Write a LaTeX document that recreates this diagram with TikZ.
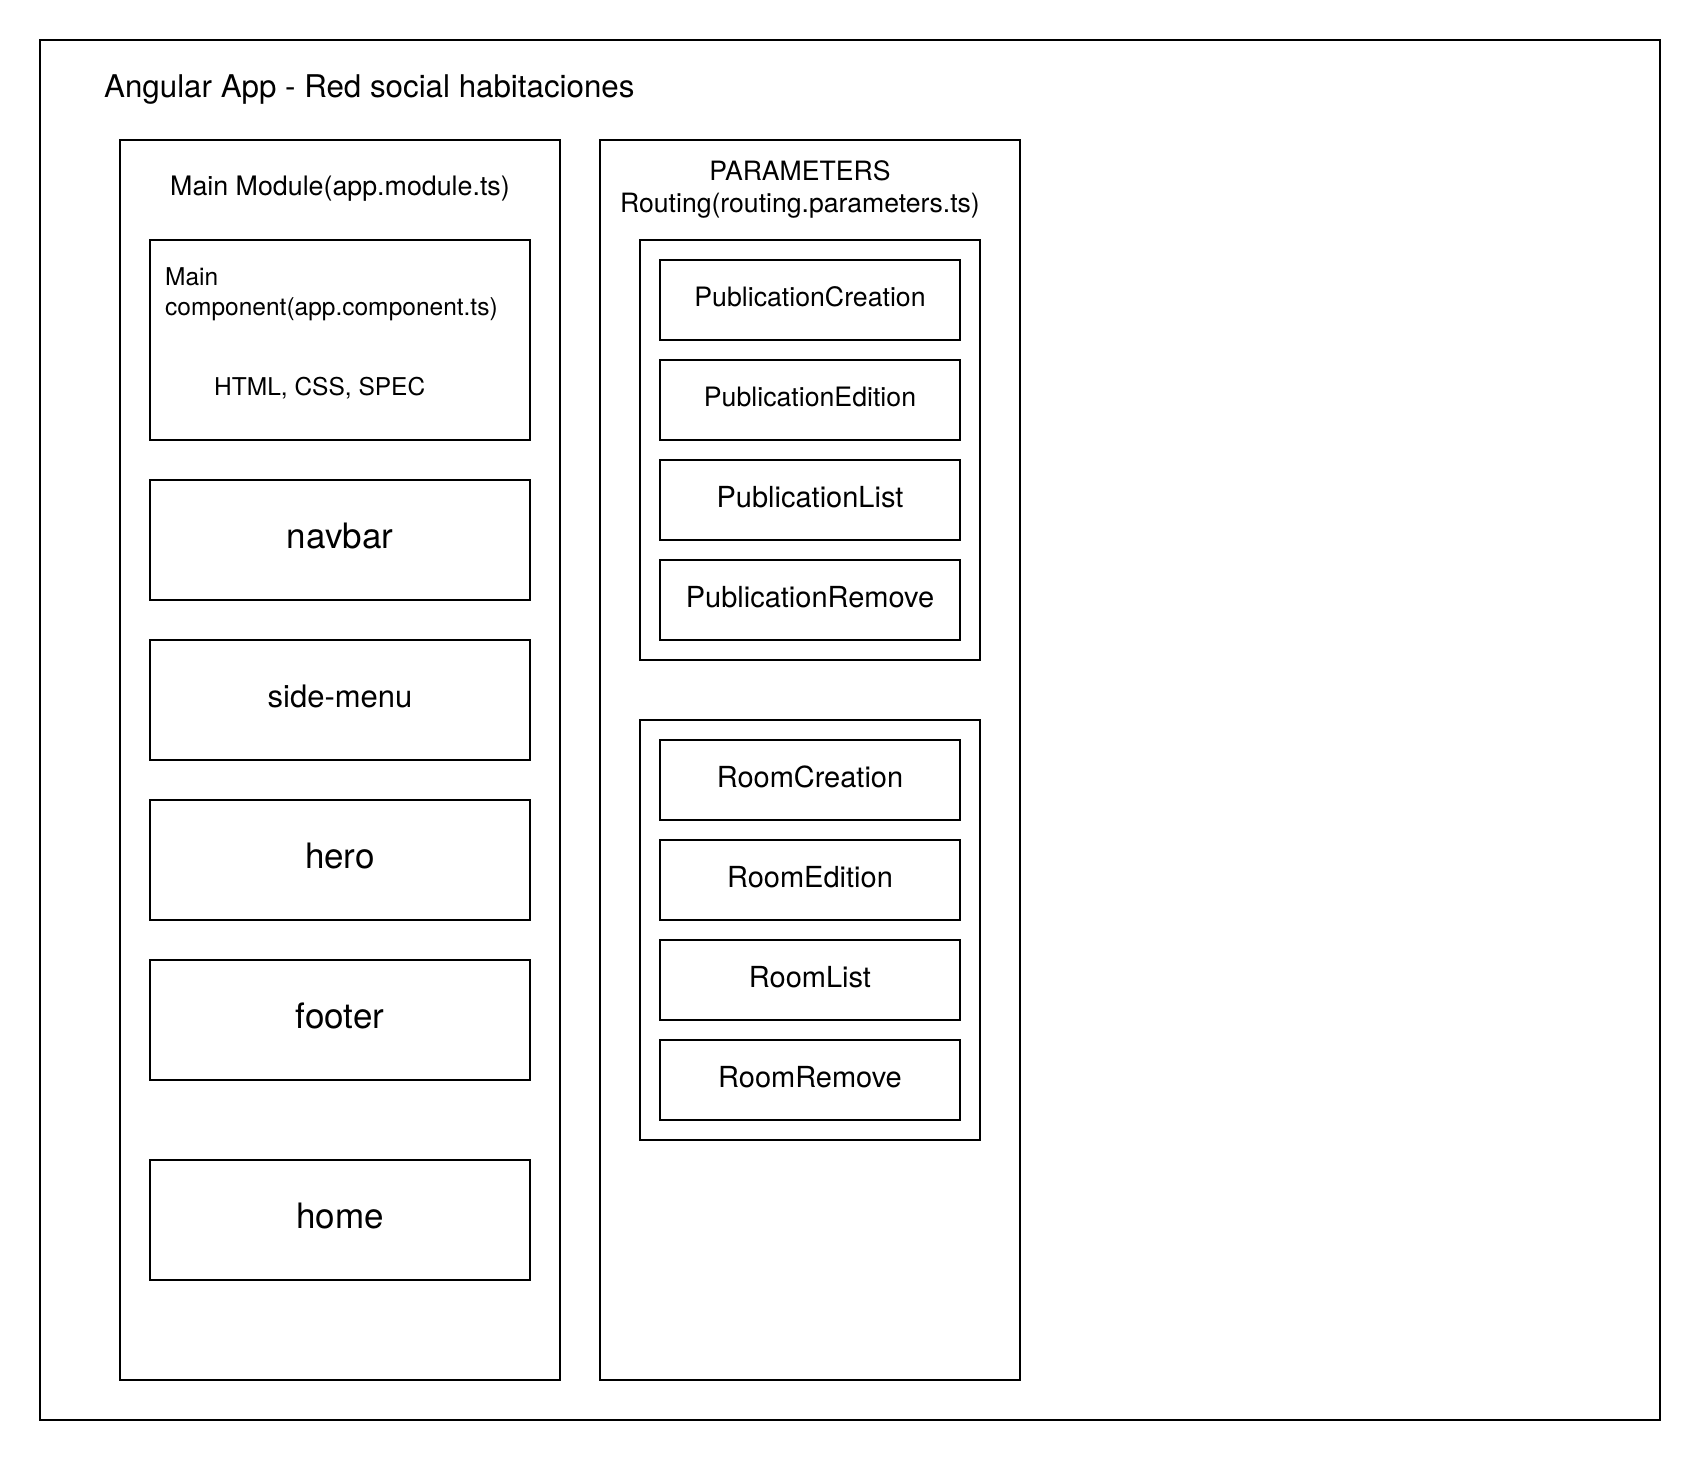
\documentclass[tikz,border=0pt]{standalone}
\usepackage{fontspec}
\setmainfont{TeX Gyre Heros}
\begin{document}
\begin{tikzpicture}[x=1pt,y=-1pt,
  frame/.style={draw=black, line width=2pt, inner sep=0pt, fill=white},
  lbl/.style={inner sep=0pt, anchor=base},
  lblw/.style={inner sep=0pt, anchor=base west},
  comp/.style={frame, minimum width=380pt, minimum height=120pt},
  route/.style={frame, minimum width=300pt, minimum height=80pt},
  grp/.style={frame, minimum width=340pt, minimum height=420pt},
  big/.style={font=\fontsize{35}{40}\selectfont, text height=26.25pt, text depth=8.75pt},
  mid/.style={font=\fontsize{31}{36}\selectfont, text height=23.25pt, text depth=7.75pt},
  rtA/.style={font=\fontsize{26.7}{31}\selectfont, text height=20pt, text depth=6.7pt},
  rtB/.style={font=\fontsize{29}{33}\selectfont, text height=21.75pt, text depth=7.25pt}
]
\useasboundingbox (0,0) rectangle (1700,1460);
\fill[white] (0,0) rectangle (1700,1460);

% outer frame
\node[frame, minimum width=1620pt, minimum height=1380pt] (outer) at (850,730) {};
\node[lblw, font=\fontsize{31.3}{36}\selectfont] (title) at (104,97) {Angular App - Red social habitaciones};

% left module
\node[frame, minimum width=440pt, minimum height=1240pt] (leftmod) at (340,760) {};
\node[lbl, font=\fontsize{26.8}{31}\selectfont] (mmlabel) at (340,195.5) {Main Module(app.module.ts)};

\node[frame, minimum width=380pt, minimum height=200pt] (mc) at (340,340) {};
\node[lblw, font=\fontsize{24.5}{28}\selectfont] (mcmain) at (165,285) {Main};
\node[lblw, font=\fontsize{24.5}{28}\selectfont] (mccomp) at (165,315) {component(app.component.ts)};
\node[lblw, font=\fontsize{24.5}{28}\selectfont] (mchtml) at (214,395) {HTML, CSS, SPEC};

\node[comp, big] (navbar) at (340,540) {navbar};
\node[comp, mid] (sidemenu) at (340,700) {side-menu};
\node[comp, big] (hero) at (340,860) {hero};
\node[comp, big] (footer) at (340,1020) {footer};
\node[comp, big] (home) at (340,1220) {home};

% right module
\node[frame, minimum width=420pt, minimum height=1240pt] (rightmod) at (810,760) {};
\node[lbl, font=\fontsize{26.6}{31}\selectfont] (params) at (800,180.5) {PARAMETERS};
\node[lbl, font=\fontsize{26.6}{31}\selectfont] (routing) at (800,212) {Routing(routing.parameters.ts)};

\node[grp] (pubgrp) at (810,450) {};
\node[route, rtA] (pc) at (810,300) {PublicationCreation};
\node[route, rtA] (pe) at (810,400) {PublicationEdition};
\node[route, rtB] (pl) at (810,500) {PublicationList};
\node[route, rtB] (pr) at (810,600) {PublicationRemove};

\node[grp] (roomgrp) at (810,930) {};
\node[route, rtB] (rc) at (810,780) {RoomCreation};
\node[route, rtB] (re) at (810,880) {RoomEdition};
\node[route, rtB] (rl) at (810,980) {RoomList};
\node[route, rtB] (rr) at (810,1080) {RoomRemove};
\end{tikzpicture}
\end{document}
